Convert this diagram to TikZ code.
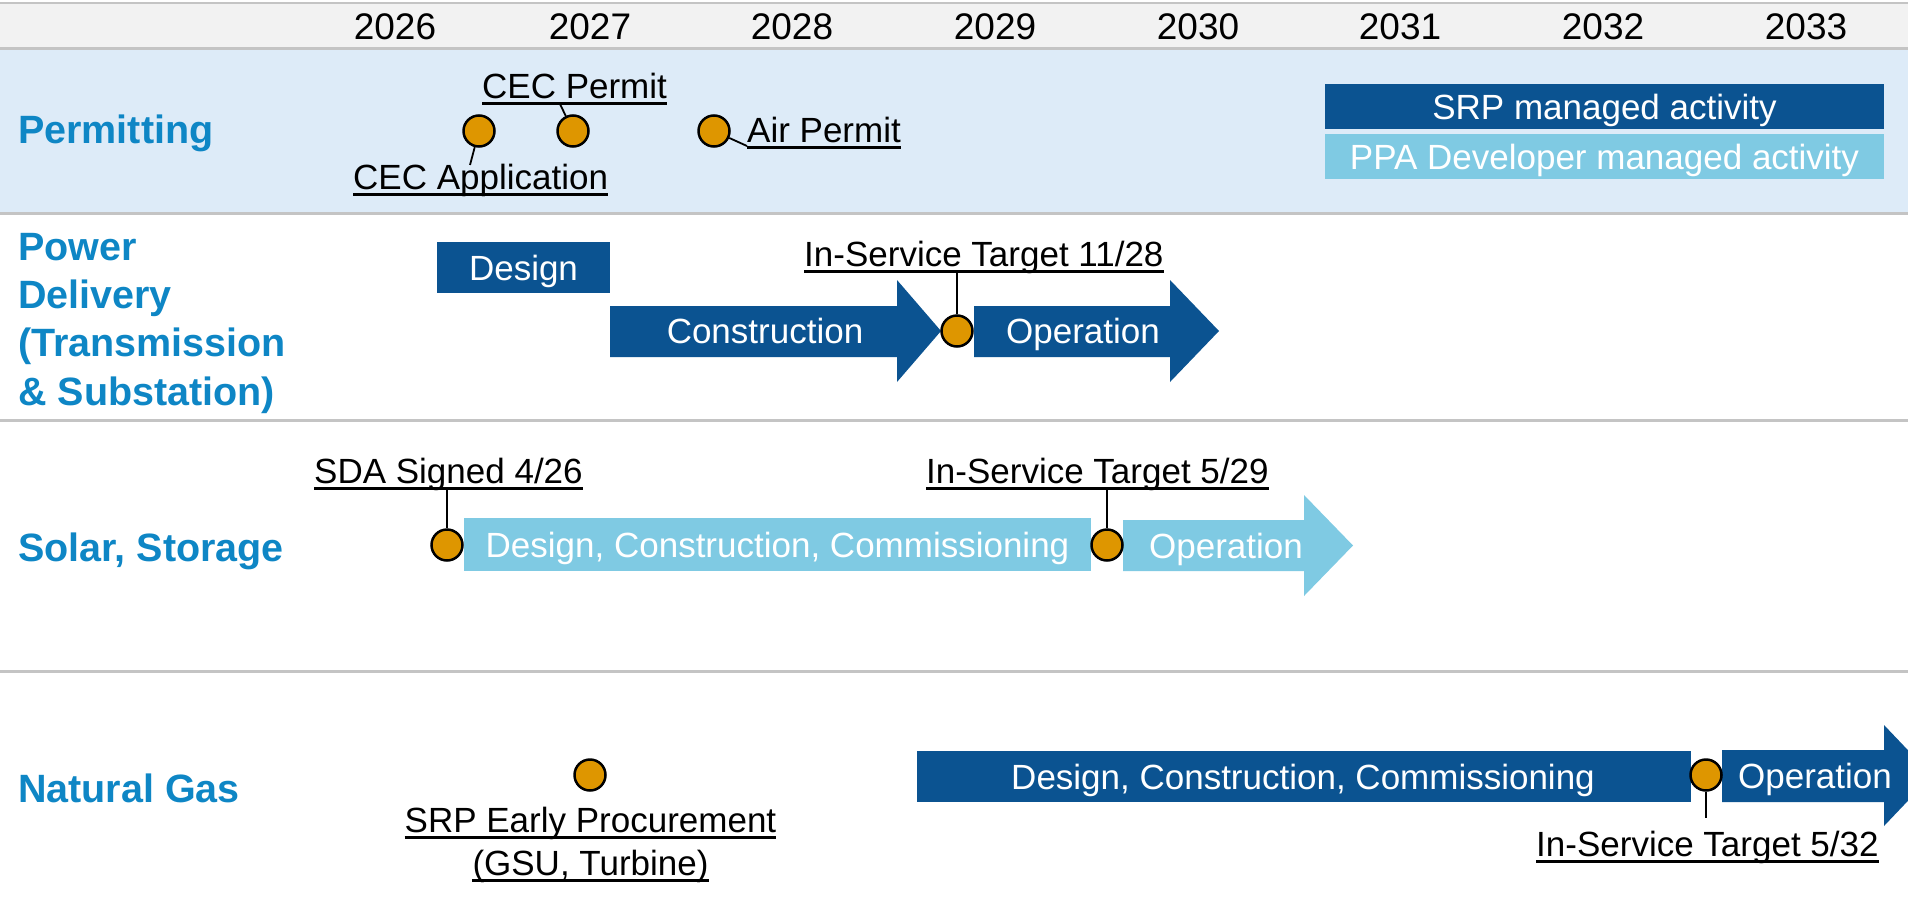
\documentclass[tikz,border=0pt]{standalone}
\usepackage{fontspec}
\setmainfont{Liberation Sans}
\definecolor{dkblue}{HTML}{0B5391}
\definecolor{ltblue}{HTML}{7FCAE3}
\definecolor{lblblue}{HTML}{0E86C5}
\definecolor{orng}{HTML}{DE9600}
\definecolor{bandblue}{HTML}{DDEBF8}
\definecolor{hdrgray}{HTML}{F2F2F2}
\definecolor{linegray}{HTML}{C4C4C4}
\begin{document}
\begin{tikzpicture}[x=1pt,y=-1pt,
  yr/.style={font=\fontsize{37}{44}\selectfont, anchor=base, inner sep=0},
  lbl/.style={font=\fontsize{39.5}{48.3}\selectfont\bfseries, text=lblblue, inner sep=0, align=left},
  txt/.style={font=\fontsize{35}{42}\selectfont, anchor=base west, inner sep=0},
  ctxt/.style={font=\fontsize{35}{42}\selectfont, anchor=base, inner sep=0},
  wtxt/.style={font=\fontsize{35}{42}\selectfont, text=white, anchor=base, inner sep=0},
  ms/.style={circle, draw=black, line width=2.5pt, fill=orng, minimum size=31pt, inner sep=0},
  lead/.style={draw=black, line width=1.8pt},
  uline/.style={draw=black, line width=3pt},
  sep/.style={draw=linegray, line width=3pt}
]
\useasboundingbox (0,0) rectangle (1908,899);
\clip (0,0) rectangle (1908,899);
% backgrounds
\fill[hdrgray] (0,3) rectangle (1908,49);
\fill[bandblue] (0,49) rectangle (1908,213);
\draw[sep, line width=2pt] (0,3) -- (1908,3);
\draw[sep] (0,49) -- (1908,49);
\draw[sep] (0,213) -- (1908,213);
\draw[sep] (0,420) -- (1908,420);
\draw[sep] (0,671) -- (1908,671);
% years
\foreach \y/\x in {2026/395,2027/590,2028/792,2029/995,2030/1198,2031/1400,2032/1603,2033/1806}
  \node[yr] (y\y) at (\x,39.5) {\y};
% row labels
\node[lbl, anchor=base west] (lperm) at (18,143) {Permitting};
\node[lbl, anchor=north west] (lpow) at (18,233) {Power\\Delivery\\(Transmission\\\& Substation)};
\node[lbl, anchor=base west] (lsol) at (18,561) {Solar, Storage};
\node[lbl, anchor=base west] (lgas) at (18,802) {Natural Gas};
% legend
\node[fill=dkblue, minimum width=559pt, minimum height=45pt, inner sep=0] (legsrp) at (1604.5,106.5) {};
\node[wtxt] (legsrpt) at (1604.5,119) {SRP managed activity};
\node[fill=ltblue, minimum width=559pt, minimum height=45pt, inner sep=0] (legppa) at (1604.5,156.5) {};
\node[wtxt] (legppat) at (1604.5,169) {PPA Developer managed activity};
% ---------- Permitting
\node[txt] (tcp) at (482,98.5) {CEC Permit};
\node[txt] (tca) at (353,189.5) {CEC Application};
\node[txt] (tap) at (747,142.5) {Air Permit};
\foreach \n in {tcp,tca,tap}
  \draw[uline] ([yshift=-4.5pt]\n.base west) -- ([yshift=-4.5pt]\n.base east);
\node[ms] (mca) at (479,131) {};
\node[ms] (mcp) at (573,131) {};
\node[ms] (map) at (714,131) {};
\coordinate (kca) at (470,165);
\coordinate (kcp) at (560,104);
\coordinate (kap) at (747,146);
\draw[lead] (mca) -- (kca);
\draw[lead] (mcp) -- (kcp);
\draw[lead] (map) -- (kap);
% ---------- Power delivery
\node[fill=dkblue, minimum width=173pt, minimum height=51pt, inner sep=0] (pdes) at (523.5,267.5) {};
\node[wtxt] at (523.5,280) {Design};
\fill[dkblue] (610,306) -- (897,306) -- (897,280) -- (941,331) -- (897,382) -- (897,357) -- (610,357) -- cycle;
\node[wtxt] (pcon) at (765,343.5) {Construction};
\fill[dkblue] (974,306) -- (1170,306) -- (1170,280) -- (1219,331) -- (1170,382) -- (1170,357) -- (974,357) -- cycle;
\node[wtxt] (pop) at (1083,343.5) {Operation};
\node[txt] (tis1) at (804,266.5) {In-Service Target 11/28};
\draw[uline] ([yshift=-4.5pt]tis1.base west) -- ([yshift=-4.5pt]tis1.base east);
\node[ms] (mis1) at (957,331) {};
\coordinate (kis1) at (957,271);
\draw[lead] (mis1) -- (kis1);
% ---------- Solar, storage
\node[fill=ltblue, minimum width=627pt, minimum height=53pt, inner sep=0] (sdes) at (777.5,544.5) {};
\node[wtxt] at (777.5,557) {Design, Construction, Commissioning};
\fill[ltblue] (1123,520) -- (1304,520) -- (1304,495) -- (1353,545.5) -- (1304,596) -- (1304,571) -- (1123,571) -- cycle;
\node[wtxt] (sop) at (1226,558) {Operation};
\node[txt] (tsda) at (314,483.5) {SDA Signed 4/26};
\node[txt] (tis2) at (926,483.5) {In-Service Target 5/29};
\foreach \n in {tsda,tis2}
  \draw[uline] ([yshift=-4.5pt]\n.base west) -- ([yshift=-4.5pt]\n.base east);
\node[ms] (msda) at (447,545) {};
\node[ms] (mis2) at (1107,545) {};
\coordinate (ksda) at (447,488);
\coordinate (kis2) at (1107,488);
\draw[lead] (msda) -- (ksda);
\draw[lead] (mis2) -- (kis2);
% ---------- Natural gas
\node[fill=dkblue, minimum width=774pt, minimum height=51pt, inner sep=0] (gdes) at (1304,776.5) {};
\node[wtxt] at (1303,789) {Design, Construction, Commissioning};
\fill[dkblue] (1722,750) -- (1884,750) -- (1884,725) -- (1932,775.5) -- (1884,826) -- (1884,802) -- (1722,802) -- cycle;
\node[wtxt] (gop) at (1815,788) {Operation};
\node[ms] (mep) at (590,775) {};
\node[ctxt] (tep1) at (590.5,832.5) {SRP Early Procurement};
\node[ctxt] (tep2) at (590.5,875.5) {(GSU, Turbine)};
\node[txt] (tis3) at (1536,856.5) {In-Service Target 5/32};
\foreach \n in {tep1,tep2,tis3}
  \draw[uline] ([yshift=-4.5pt]\n.base west) -- ([yshift=-4.5pt]\n.base east);
\node[ms] (mis3) at (1706,775) {};
\coordinate (kis3) at (1706,818);
\draw[lead] (mis3) -- (kis3);
\end{tikzpicture}
\end{document}
